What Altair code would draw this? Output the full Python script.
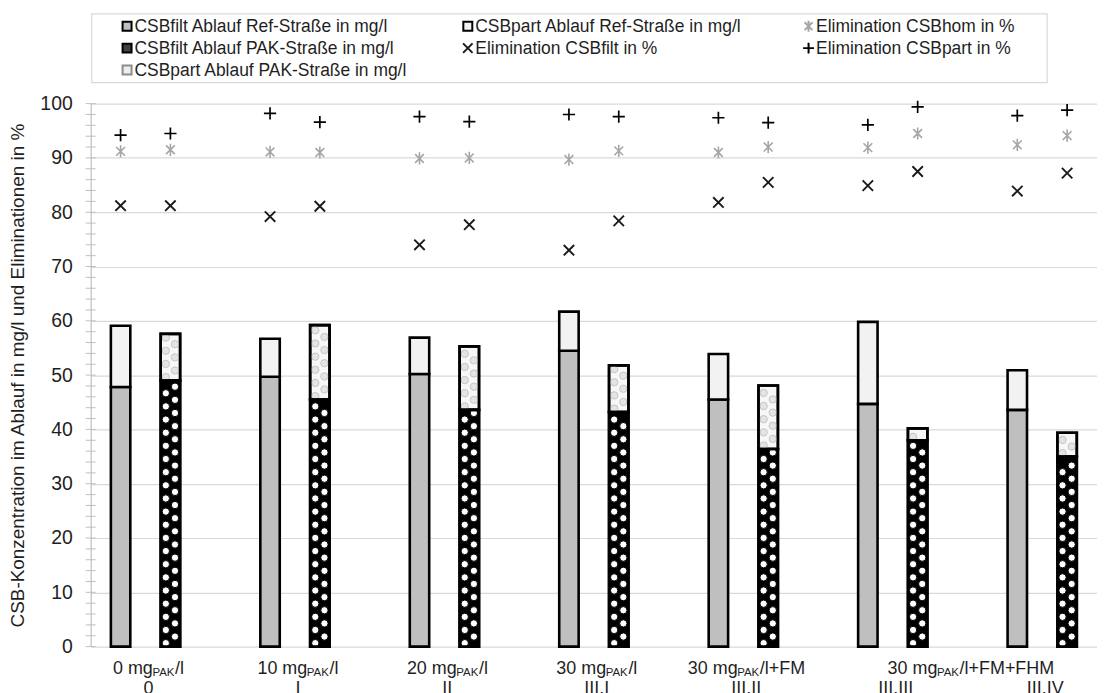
import altair as alt
import pandas as pd

# ---------------- data ----------------
groups = ["0", "I", "II", "III.I", "III.II", "III.III", "III.IV"]
dose_main = ["0 mg", "10 mg", "20 mg", "30 mg", "30 mg", "30 mg"]
dose_sub = ["PAK", "PAK", "PAK", "PAK", "PAK", "PAK"]
dose_tail = ["/l", "/l", "/l", "/l", "/l+FM", "/l+FM+FHM"]
dose_span = [[0], [1], [2], [3], [4], [5, 6]]

csbfilt_ref = [47.8, 49.7, 50.2, 54.5, 45.5, 44.7, 43.6]
csbpart_ref = [11.3, 7.0, 6.7, 7.2, 8.4, 15.1, 7.3]
csbfilt_pak = [49.0, 45.5, 43.6, 43.2, 36.4, 38.0, 35.0]
csbpart_pak = [8.6, 13.7, 11.7, 8.6, 11.7, 2.2, 4.4]

elim_hom_ref = [91.2, 91.1, 89.9, 89.7, 91.0, 91.9, 92.4]
elim_hom_pak = [91.5, 91.0, 90.0, 91.3, 92.0, 94.5, 94.1]
elim_filt_ref = [81.2, 79.2, 74.0, 73.0, 81.8, 84.9, 83.9]
elim_filt_pak = [81.2, 81.1, 77.7, 78.4, 85.5, 87.5, 87.2]
elim_part_ref = [94.2, 98.2, 97.6, 98.0, 97.4, 96.1, 97.8]
elim_part_pak = [94.5, 96.6, 96.7, 97.6, 96.5, 99.4, 98.8]

y_tick_values = list(range(0, 101, 2))
y_label_values = list(range(0, 101, 10))

legend_names = [
    "CSBfilt Ablauf Ref-Straße in mg/l",
    "CSBpart Ablauf Ref-Straße in mg/l",
    "Elimination CSBhom in %",
    "CSBfilt Ablauf PAK-Straße in mg/l",
    "Elimination CSBfilt in %",
    "Elimination CSBpart in %",
    "CSBpart Ablauf PAK-Straße in mg/l",
]
y_title = "CSB-Konzentration im Ablauf in mg/l und Eliminationen in %"

# ---------------- layout / style ----------------
W, H = 1010, 545
NSLOT = 20
PX_SLOT = W / NSLOT
PX_UNIT = H / 100.0
BAR_W = 19.5
FONT = "Liberation Sans"
TXT = "#1f1f1f"

PLUS = "M-1,0L1,0M0,-1L0,1"
CROSS = "M-1,-1L1,1M-1,1L1,-1"
STAR = "M-0.72,-0.72L0.72,0.72M-0.72,0.72L0.72,-0.72M0,-1L0,1"
SQUARE = "M-1,-1L1,-1L1,1L-1,1Z"

legend_shapes = [SQUARE, SQUARE, STAR, SQUARE, CROSS, PLUS, SQUARE]
legend_fills = ["#bfbfbf", "#f2f2f2", "transparent", "#404040", "transparent", "transparent", "#eeeeee"]
legend_strokes = ["#000000", "#000000", "#a6a6a6", "#000000", "#1a1a1a", "#000000", "#8c8c8c"]
legend_sizes = [81, 81, 120, 81, 90, 120, 81]

xs = alt.Scale(domain=[0, NSLOT], nice=False, zero=False)
ys = alt.Scale(domain=[0, 100], nice=False, zero=True)
Y_AXIS = alt.Axis(values=y_label_values, grid=True, gridColor="#d9d9d9", gridWidth=1.2,
                  ticks=False, domain=True, domainColor="#bfbfbf", domainWidth=1.2,
                  labelFont=FONT, labelFontSize=19.5, labelColor=TXT, labelPadding=18.5,
                  title=y_title, titleFont=FONT, titleFontSize=19, titleFontWeight="normal",
                  titleColor=TXT, titlePadding=12)

# ---------------- tables ----------------
bar_rows = []
dot_rows = []
for i in range(len(groups)):
    for side, filt, part in (("Ref", csbfilt_ref[i], csbpart_ref[i]),
                             ("PAK", csbfilt_pak[i], csbpart_pak[i])):
        slot = 3 * i + (0 if side == "Ref" else 1)
        xc = slot + 0.5
        bar_rows.append(dict(side=side, seg="filt", x=xc, y=0.0, y1=filt))
        bar_rows.append(dict(side=side, seg="part", x=xc, y=filt, y1=filt + part))
        if side == "PAK":
            for seg, lo, hi in (("filt", 0.0, filt), ("part", filt, filt + part)):
                ypx = lo * PX_UNIT + 3.5
                j = 0
                while ypx <= hi * PX_UNIT - 3.0:
                    dot_rows.append(dict(seg=seg, x=xc, y=ypx / PX_UNIT, col=j % 2))
                    ypx += 6.6
                    j += 1
bars = pd.DataFrame(bar_rows)
dots = pd.DataFrame(dot_rows)

mk_rows = []
for i in range(len(groups)):
    for side, hom, fl, pt in (("Ref", elim_hom_ref[i], elim_filt_ref[i], elim_part_ref[i]),
                              ("PAK", elim_hom_pak[i], elim_filt_pak[i], elim_part_pak[i])):
        xc = 3 * i + (0 if side == "Ref" else 1) + 0.5
        mk_rows.append(dict(s="hom", x=xc, y=hom))
        mk_rows.append(dict(s="filt", x=xc, y=fl))
        mk_rows.append(dict(s="part", x=xc, y=pt))
markers = pd.DataFrame(mk_rows)

# text widths (Arial / Liberation Sans metrics, 1/1000 em)
AW = {' ': 278, '0': 556, '1': 556, '2': 556, '3': 556, 'm': 833, 'g': 556, '/': 278,
      'l': 222, '+': 584, 'F': 611, 'M': 833, 'H': 722, 'P': 667, 'A': 667, 'K': 667}


def tw(s, size):
    return sum(AW.get(c, 556) for c in s) / 1000.0 * size


F_MAIN, F_SUB = 18, 11.5
LABEL_SHIFT = 3.0
main_rows, sub_rows = [], []
for d in range(len(dose_main)):
    center = sum(3 * g + 1.0 for g in dose_span[d]) / len(dose_span[d])
    w1 = tw(dose_main[d], F_MAIN)
    w2 = tw(dose_sub[d], F_SUB)
    w3 = tw(dose_tail[d], F_MAIN)
    start_px = center * PX_SLOT - (w1 + w2 + w3) / 2 + LABEL_SHIFT
    main_rows.append(dict(t=dose_main[d], x=start_px / PX_SLOT))
    sub_rows.append(dict(t=dose_sub[d], x=(start_px + w1) / PX_SLOT))
    main_rows.append(dict(t=dose_tail[d], x=(start_px + w1 + w2) / PX_SLOT))
lab_main = pd.DataFrame(main_rows)
lab_sub = pd.DataFrame(sub_rows)
lab_grp = pd.DataFrame(dict(t=groups, x=[3 * i + 1.0 + LABEL_SHIFT / PX_SLOT for i in range(len(groups))]))

ticks = pd.DataFrame(dict(y=y_tick_values))

# ---------------- layers ----------------
X = alt.X("x:Q", scale=xs, axis=None)
YE = dict(scale=ys, axis=Y_AXIS)

tick_marks = alt.Chart(ticks).mark_rule(color="#bfbfbf", strokeWidth=1).encode(
    y=alt.Y("y:Q", **YE), x=alt.value(-5), x2=alt.value(5))


def bar_layer(side, seg, fill):
    return alt.Chart(bars).transform_filter(
        f"datum.side == '{side}' && datum.seg == '{seg}'"
    ).mark_bar(width=BAR_W, fill=fill, stroke="black", strokeWidth=2.6).encode(
        x=X, y=alt.Y("y:Q", **YE), y2="y1:Q")


ref_filt = bar_layer("Ref", "filt", "#bfbfbf")
ref_part = bar_layer("Ref", "part", "#f2f2f2")
pak_filt = bar_layer("PAK", "filt", "#000000")
pak_part = bar_layer("PAK", "part", "#f7f7f7")


def dot_layer(seg, col, fill, stroke):
    return alt.Chart(dots).transform_filter(
        f"datum.seg == '{seg}' && datum.col == {col}"
    ).mark_point(shape="circle", filled=True, fill=fill, stroke=stroke, strokeWidth=1,
                 size=54, opacity=1, xOffset=(-4.6 if col == 0 else 4.6)).encode(
        x=X, y=alt.Y("y:Q", **YE))


dots_layers = [dot_layer("filt", 0, "white", "black"), dot_layer("filt", 1, "white", "black"),
               dot_layer("part", 0, "#e4e4e4", "#c4c4c4"), dot_layer("part", 1, "#e4e4e4", "#c4c4c4")]

pak_outline = alt.Chart(bars).transform_filter("datum.side == 'PAK'").mark_bar(
    width=BAR_W, fill="transparent", stroke="black", strokeWidth=2.6).encode(
    x=X, y=alt.Y("y:Q", **YE), y2="y1:Q")


def marker_layer(s, shape, color, size, sw):
    return alt.Chart(markers).transform_filter(f"datum.s == '{s}'").mark_point(
        shape=shape, filled=False, stroke=color, strokeWidth=sw, size=size, opacity=1).encode(
        x=X, y=alt.Y("y:Q", **YE))


mk_hom = marker_layer("hom", STAR, "#a6a6a6", 150, 1.6)
mk_filt = marker_layer("filt", CROSS, "#1a1a1a", 110, 1.9)
mk_part = marker_layer("part", PLUS, "#000000", 150, 1.7)

text_main = alt.Chart(lab_main).mark_text(align="left", baseline="alphabetic", font=FONT,
                                          fontSize=F_MAIN, color=TXT).encode(
    x=X, y=alt.value(H + 27), text="t:N")
text_sub = alt.Chart(lab_sub).mark_text(align="left", baseline="alphabetic", font=FONT,
                                        fontSize=F_SUB, color=TXT).encode(
    x=X, y=alt.value(H + 29), text="t:N")
text_grp = alt.Chart(lab_grp).mark_text(align="center", baseline="alphabetic", font=FONT,
                                        fontSize=F_MAIN, color=TXT).encode(
    x=X, y=alt.value(H + 47.5), text="t:N")

# ---------------- legend (drawn by hand, row-major, 3 columns) ----------------
one = pd.DataFrame(dict(k=[0]))
LEG_X0, LEG_COLW, LEG_Y0, LEG_ROWH = 36.5, 342.0, -77.7, 22.0
legend_layers = [
    alt.Chart(one).mark_rect(fill="transparent", stroke="#d9d9d9", strokeWidth=1.2).encode(
        x=alt.value(1), x2=alt.value(960), y=alt.value(-90), y2=alt.value(-21))
]
for i, name in enumerate(legend_names):
    cx = LEG_X0 + (i % 3) * LEG_COLW
    cy = LEG_Y0 + (i // 3) * LEG_ROWH
    legend_layers.append(
        alt.Chart(one).mark_point(shape=legend_shapes[i], filled=True, fill=legend_fills[i],
                                  stroke=legend_strokes[i], strokeWidth=2, size=legend_sizes[i],
                                  opacity=1).encode(x=alt.value(cx), y=alt.value(cy)))
    legend_layers.append(
        alt.Chart(one).mark_text(align="left", baseline="middle", font=FONT, fontSize=17.5,
                                 color=TXT).encode(x=alt.value(cx + 7.5), y=alt.value(cy + 1),
                                                   text=alt.value(name)))

chart = alt.layer(
    tick_marks,
    ref_filt, ref_part, pak_filt, pak_part, *dots_layers, pak_outline,
    mk_hom, mk_filt, mk_part,
    text_main, text_sub, text_grp, *legend_layers,
).properties(
    width=W, height=H,
    autosize=alt.AutoSizeParams(type="none"),
    padding={"left": 83, "top": 94.7, "right": 0, "bottom": 55},
).configure_view(stroke=None)

chart.save("out.html", embed_options={"renderer": "svg", "actions": False})
